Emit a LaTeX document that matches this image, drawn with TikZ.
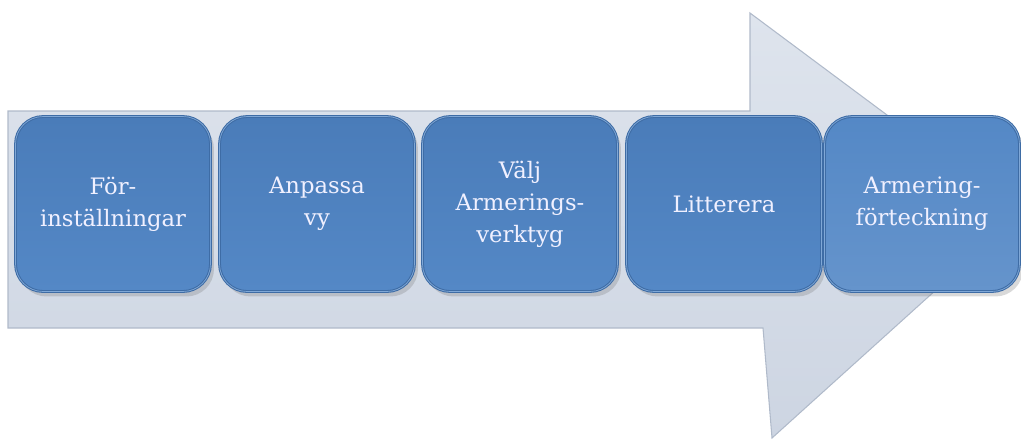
\documentclass[tikz,border=0pt]{standalone}
\usepackage{fontspec}
\setmainfont{DejaVu Serif}
\usepackage{tikz}
\usetikzlibrary{shadows}
\definecolor{flowgray}{RGB}{205,213,226}
\definecolor{flowtop}{RGB}{222,228,237}
\definecolor{flowedge}{RGB}{176,186,202}
\definecolor{stepblue}{RGB}{74,124,185}
\definecolor{steplight}{RGB}{84,136,198}
\definecolor{steprim}{RGB}{62,108,165}
\definecolor{stepshine}{RGB}{128,168,215}
\tikzset{
  % the blue steps standing on the grey arrow
  stepbox/.style={rectangle,rounded corners=0.55cm,
    top color=stepblue,bottom color=steplight,
    draw=steprim,line width=1.6pt,
    postaction={draw=stepshine,line width=0.4pt},
    drop shadow={opacity=0.3,shadow xshift=0.07cm,shadow yshift=-0.1cm},
    minimum width=3.9cm,minimum height=3.5cm,align=center,
    text=white!94!blue,font=\fontsize{12.9pt}{18.2pt}\selectfont},
  flow/.style={top color=flowtop,bottom color=flowgray,draw=flowedge,
    line width=0.6pt,line join=miter}
}
\begin{document}
\begin{tikzpicture}[x=0.02cm,y=-0.02cm]
  \useasboundingbox (0,0) rectangle (1021,441);
  % big arrow behind the steps
  \path[flow] (8,111) -- (750,111) -- (750,13) -- (1020,214)
    -- (772,438) -- (763,328) -- (8,328) -- cycle;
  % the five steps
  \node[stepbox] (s1) at (113,204) {För-\\inställningar};
  \node[stepbox] (s2) at (317,204) {Anpassa\\vy};
  \node[stepbox] (s3) at (520,204) {Välj\\Armerings-\\verktyg};
  \node[stepbox] (s4) at (724,204) {Litterera};
  \node[stepbox,top color=steplight,bottom color=steplight!90!white] (s5) at (922,204) {Armering-\\förteckning};
\end{tikzpicture}
\end{document}
